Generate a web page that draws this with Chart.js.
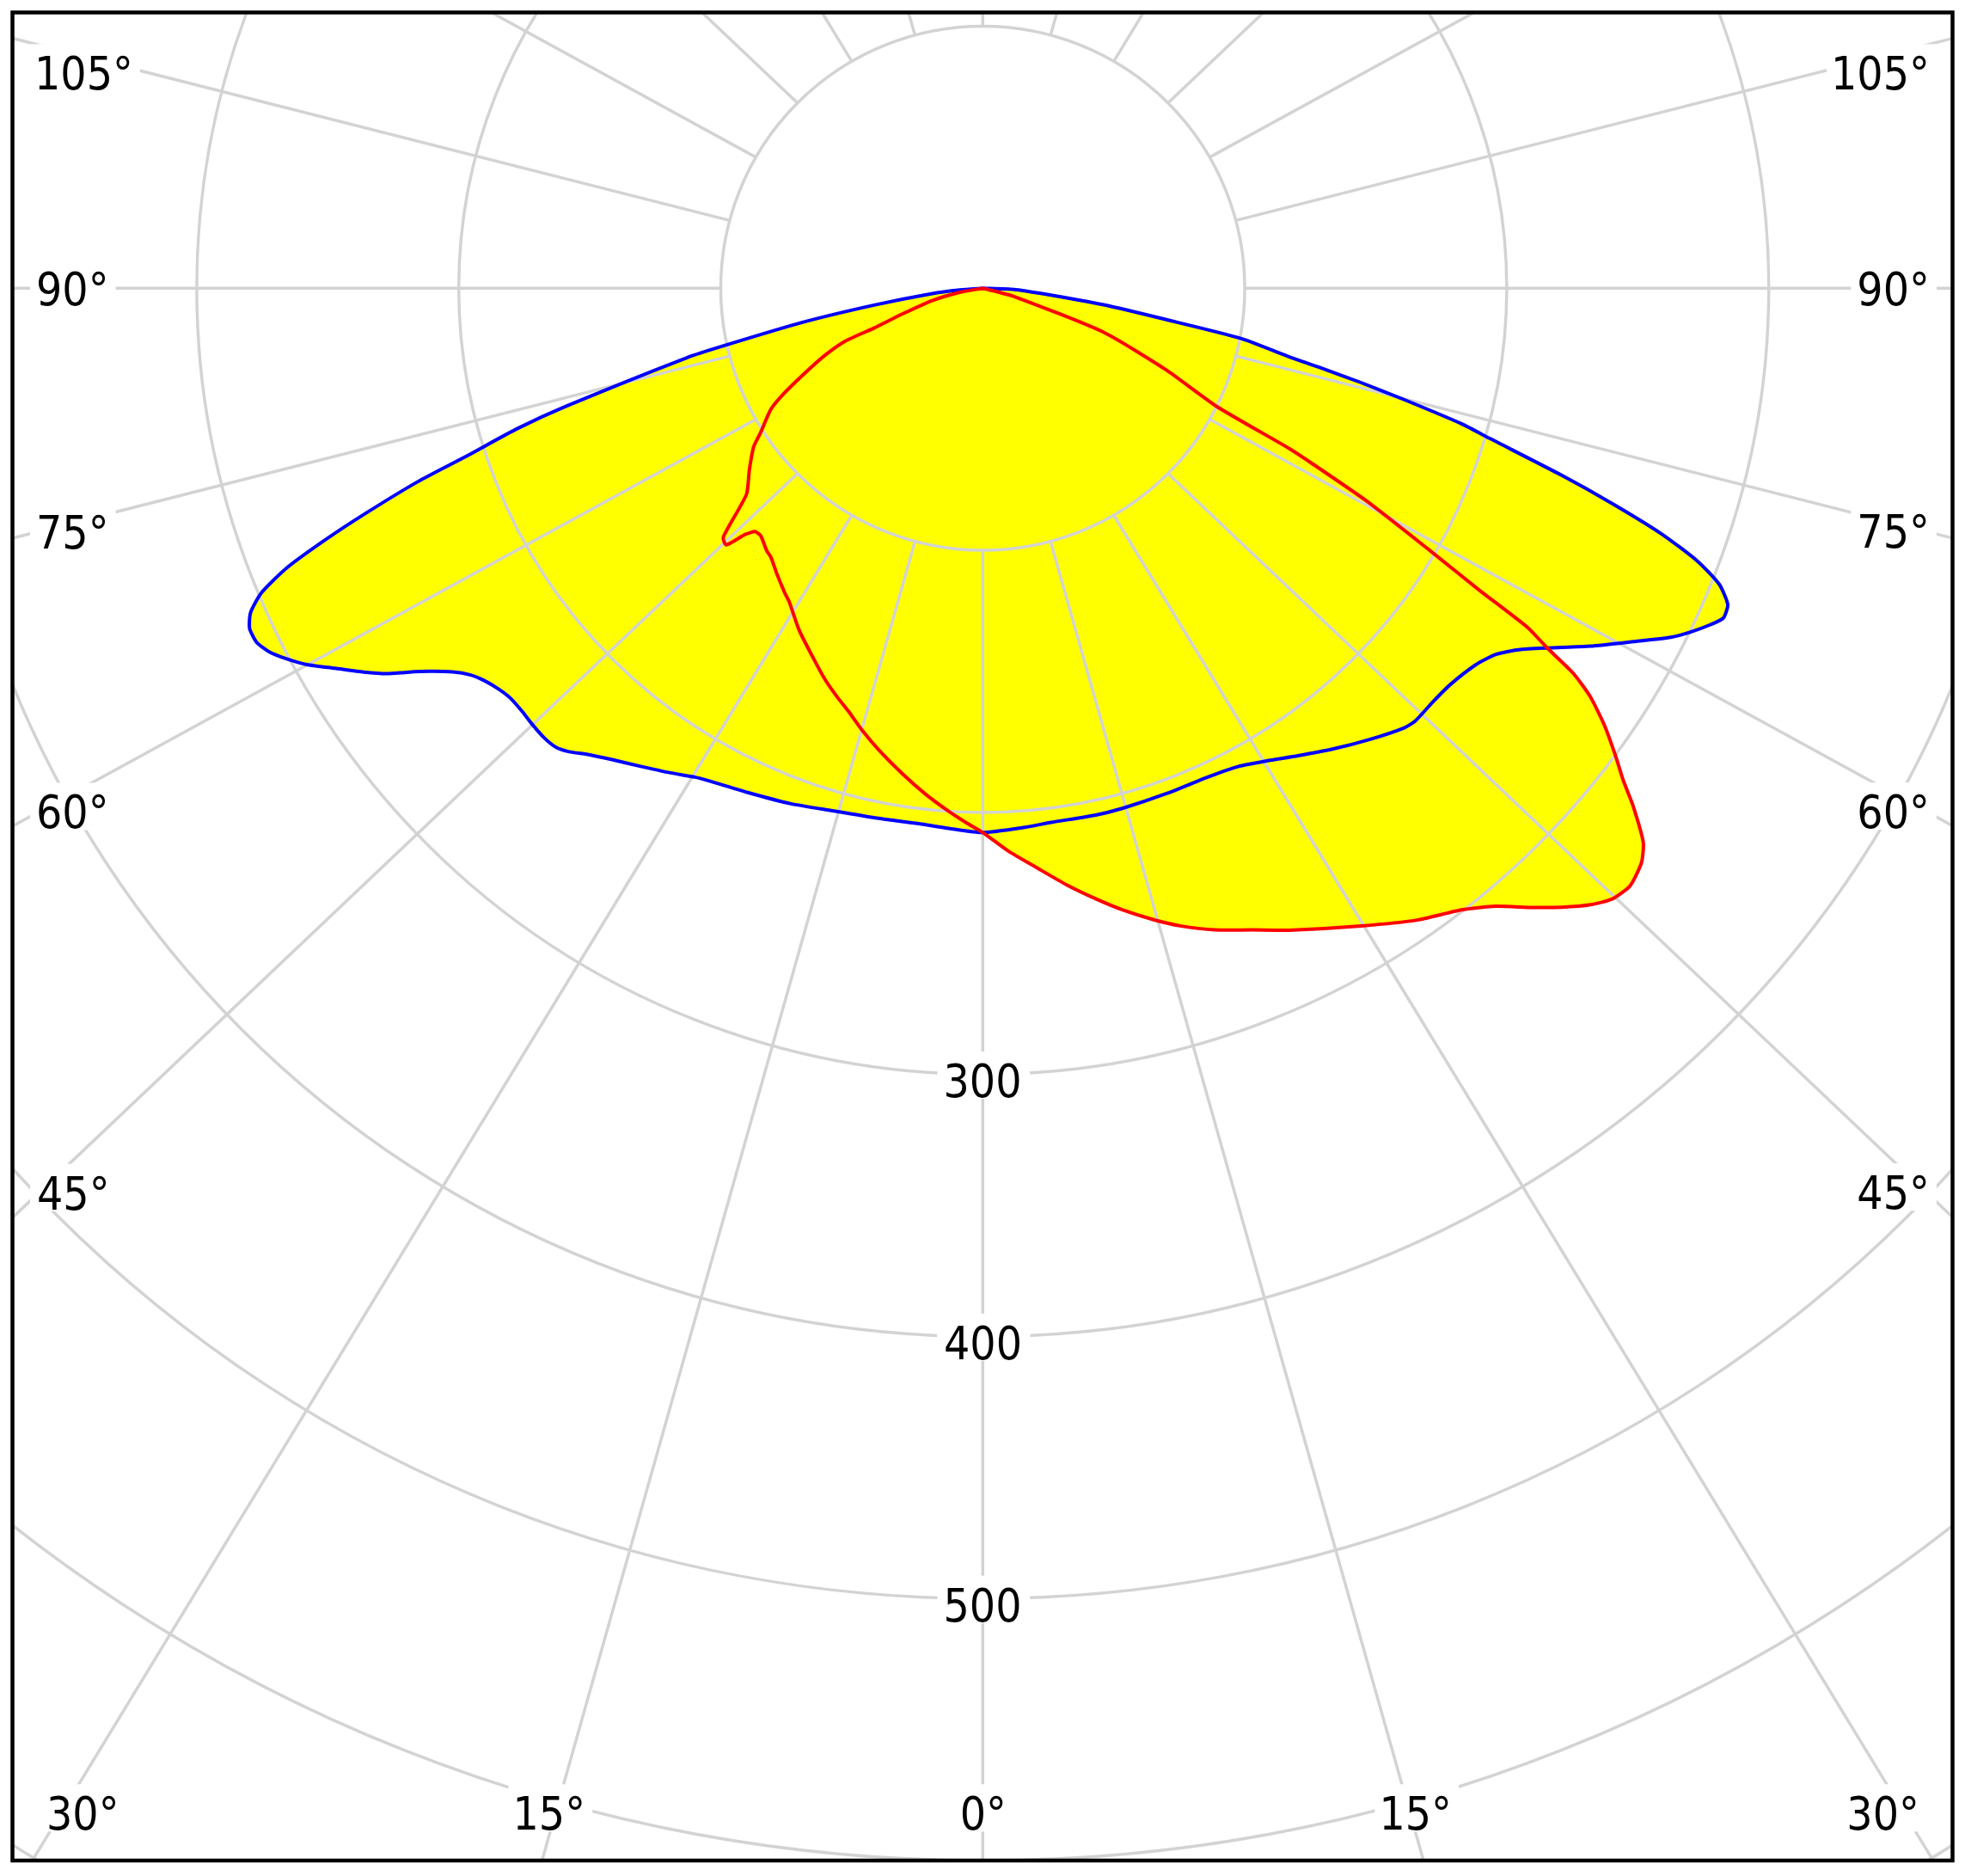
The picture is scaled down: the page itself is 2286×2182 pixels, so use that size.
<!DOCTYPE html>
<html>
<head>
<meta charset="utf-8">
<title>Polar intensity diagram</title>
<script src="https://cdn.jsdelivr.net/npm/chart.js@4.4.1/dist/chart.umd.min.js"></script>
<style>
  html, body { margin: 0; padding: 0; background: #ffffff; }
  canvas { display: block; }
</style>
</head>
<body>
<canvas id="polar" width="2286" height="2182" style="width:2286px;height:2182px"></canvas>
<script>
// gamma angle in degrees (0 = straight down, negative = left half), intensity
const c0Angles = [-90, -85.7, -83.9, -81.2, -79.3, -77.5, -76.8, -74.2, -73.2, -72.0, -71.1, -70.0, -69.1, -68.1, -67.1, -66.1,
  -65.1, -64.0, -63.0, -62.0, -60.9, -59.6, -58.2, -57.1, -56.3, -55.3, -54.1, -53.0, -51.8, -50.4, -49.1, -47.5, -45.9,
  -44.3, -42.9, -41.9, -40.1, -38.1, -35.5, -32.8, -30.5, -29.1, -25.0, -20.4, -15.9, -11.3, -6.7, -3.6, 0, 4.3, 7.3,
  12.0, 15.1, 20.0, 24.9, 28.1, 31.0, 34.0, 37.2, 40.6, 43.8, 45.0, 47.4, 49.7, 52.6, 54.5, 56.0, 57.5, 59.5, 61.5, 63.1,
  64.1, 65.2, 66.0, 67.0, 68.1, 69.1, 70.1, 71.1, 72.1, 73.5, 74.2, 75.2, 76.0, 76.8, 77.4, 79.0, 80.3, 82.2, 84.9, 87.8, 90];
const c0Values = [0, 8.8, 19.8, 42, 70, 101, 116, 165, 186, 207, 228, 250, 268, 286.5, 299, 305.7,
  308.5, 308.3, 305.6, 301.1, 295.3, 286.6, 278, 270.8, 264.1, 256.8, 249.7, 245.1, 242.1, 239.9, 238.7, 238.7, 239.3,
  239.7, 239.2, 237.4, 232.8, 228.7, 224.2, 220, 216.5, 215.1, 212.3, 209.9, 207.4, 206.2, 205.8, 206.5, 207.7, 206.4, 205.5,
  205.6, 205.5, 205.2, 205.4, 206.9, 210.4, 215.2, 220.8, 226.8, 232.4, 233.5, 233.3, 233.9, 236.7, 240.6, 246.7, 255.5, 269.1, 282.6, 294.4,
  300.3, 306, 309.4, 308.9, 303, 292.1, 275.7, 254.4, 232.2, 201.9, 189.9, 166.3, 148.8, 131.4, 119.9, 100.6, 71.1, 46.6, 22.3, 12, 0];

const c90Angles = [-90, -80, -76.2, -72.3, -69.9, -69.0, -67.0, -64.2, -61.9, -60.2, -57.0, -55.3, -52.1, -48.9, -46.2, -45.0,
  -44.0, -43.1, -41.9, -39.5, -38.2, -35.9, -33.0, -31.7, -28.2, -24.5, -22.0, -19.7, -17.7, -15.2, -12.6, -9.4, -6.5, -3.8,
  -1.8, 0, 2.6, 5.4, 7.9, 10.4, 12.7, 15.2, 17.2, 19.9, 22.8, 25.5, 30.7, 34.6, 37.6, 39.7, 41.6, 43.1, 44.6, 45.9, 47.3,
  48.9, 50.0, 51.5, 52.5, 53.5, 54.9, 56.1, 56.9, 57.5, 58.1, 58.7, 59.6, 61.0, 62.0, 62.4, 63.2, 66.0, 70.0, 75.2, 90];
const c90Values = [0, 8.9, 20.3, 32.1, 44.2, 56.2, 65.4, 76.5, 86.8, 93.3, 101.1, 106.4, 112.9, 119.7, 137.2, 138.5,
  130.6, 127.2, 126.9, 129.7, 130.7, 134.2, 138.7, 140.6, 148.2, 155.5, 160.9, 165.4, 169.2, 175, 180.8, 187.8, 194.2, 199.9,
  204, 207.7, 215, 222.3, 229.6, 236.7, 243.2, 249.8, 254.7, 260.4, 265.6, 271.4, 283, 292.8, 299.4, 306.5, 316, 323.5, 330.4, 334.8, 336.2,
  333.6, 329.1, 317.1, 308, 300.6, 290, 279.3, 269, 255.4, 244.9, 222, 198, 167.6, 142, 132, 100, 76.7, 49.1, 12.5, 0];

const ringValues = [100, 200, 300, 400, 500, 600, 700];
const ringLabelValues = [300, 400, 500];
const spokeAngles = [-165, -150, -135, -120, -105, -90, -75, -60, -45, -30, -15, 0,
  15, 30, 45, 60, 75, 90, 105, 120, 135, 150, 165, 180];
const sideTickAngles = [45, 60, 75, 90, 105];
const bottomTickAngles = [0, 15, 30];

const RAD = Math.PI / 180;

function toXY(angles, values) {
  return angles.map(function(a, i) {
    return { x: values[i] * Math.sin(a * RAD), y: -values[i] * Math.cos(a * RAD) };
  });
}

// rings, spokes and the boxed labels, drawn over the yellow fill but under the curves
const polarGrid = {
  id: 'polarGrid',
  beforeDatasetsDraw(chart) {
    const ctx = chart.ctx;
    const area = chart.chartArea;
    const xs = chart.scales.x, ys = chart.scales.y;
    const cx = xs.getPixelForValue(0), cy = ys.getPixelForValue(0);
    const w = area.right - area.left, h = area.bottom - area.top;

    ctx.save();
    ctx.beginPath();
    ctx.rect(area.left, area.top, w, h);
    ctx.clip();

    ctx.strokeStyle = '#d3d3d3';
    ctx.lineWidth = 3.5;
    ringValues.forEach(function(v) {
      ctx.beginPath();
      ctx.arc(cx, cy, xs.getPixelForValue(v) - cx, 0, 2 * Math.PI);
      ctx.stroke();
    });

    const spokes = {};
    spokeAngles.forEach(function(a) {
      const s = Math.sin(a * RAD), c = Math.cos(a * RAD);
      const x0 = xs.getPixelForValue(ringValues[0] * s);
      const y0 = ys.getPixelForValue(-ringValues[0] * c);
      const x1 = cx + 1.5 * w * s;
      const y1 = cy + 1.5 * h * c;
      ctx.beginPath();
      ctx.moveTo(x0, y0);
      ctx.lineTo(x1, y1);
      ctx.stroke();
      spokes[a] = [x0, y0, x1, y1];
    });

    ctx.font = '53px "DejaVu Sans Condensed", "DejaVu Sans", sans-serif';
    ctx.textAlign = 'left';
    ctx.textBaseline = 'alphabetic';

    function inkWidth(text) {
      const m = ctx.measureText(text);
      return m.actualBoundingBoxLeft + m.actualBoundingBoxRight;
    }
    function drawLabel(text, inkLeft, baseline) {
      const m = ctx.measureText(text);
      const tw = m.actualBoundingBoxLeft + m.actualBoundingBoxRight;
      ctx.fillStyle = '#ffffff';
      ctx.fillRect(inkLeft - 10, baseline - 53, tw + 22, 55);
      ctx.fillStyle = '#000000';
      ctx.fillText(text, inkLeft + m.actualBoundingBoxLeft, baseline);
    }

    // intensity values along the 0° spoke
    ringLabelValues.forEach(function(v) {
      const t = String(v);
      drawLabel(t, cx - inkWidth(t) / 2, ys.getPixelForValue(-v) + 26.5);
    });

    // angle labels on the left and right edges
    sideTickAngles.forEach(function(a) {
      const t = a + '°';
      const tw = inkWidth(t);
      [-a, a].forEach(function(k) {
        const sp = spokes[k];
        const xEdge = k < 0 ? area.left + 30.5 : area.right - 30.5;
        const f = (xEdge - sp[0]) / (sp[2] - sp[0]);
        let y = sp[1] + f * (sp[3] - sp[1]);
        y = Math.max(y, area.top + 70.5);
        drawLabel(t, k < 0 ? xEdge : xEdge - tw, y + 19.3);
      });
    });

    // angle labels along the bottom edge
    bottomTickAngles.forEach(function(a) {
      const t = a + '°';
      const tw = inkWidth(t);
      const keys = a === 0 ? [0] : [-a, a];
      keys.forEach(function(k) {
        const sp = spokes[k];
        const yEdge = area.bottom - 31;
        const f = (yEdge - sp[1]) / (sp[3] - sp[1]);
        let left = sp[0] + f * (sp[2] - sp[0]) - tw / 2;
        left = Math.max(left, area.left + 42.5);
        left = Math.min(left, area.right - 42.5 - tw);
        drawLabel(t, left, area.bottom - 35.7);
      });
    });

    ctx.restore();
  },
  afterDraw(chart) {
    const ctx = chart.ctx;
    const area = chart.chartArea;
    ctx.save();
    ctx.strokeStyle = '#000000';
    ctx.lineWidth = 4.5;
    ctx.strokeRect(area.left, area.top, area.right - area.left, area.bottom - area.top);
    ctx.restore();
  }
};

new Chart(document.getElementById('polar'), {
  type: 'scatter',
  data: {
    datasets: [{
      label: 'C0 - C180',
      data: toXY(c0Angles, c0Values),
      showLine: true,
      borderColor: '#0000ff',
      borderWidth: 4,
      backgroundColor: '#ffff00',
      fill: 'shape',
      pointRadius: 0,
      tension: 0.2,
      order: 2
    }, {
      label: 'C90 - C270',
      data: toXY(c90Angles, c90Values),
      showLine: true,
      borderColor: '#ff0000',
      borderWidth: 4,
      backgroundColor: '#ffff00',
      fill: 'shape',
      pointRadius: 0,
      tension: 0.2,
      order: 1
    }]
  },
  options: {
    responsive: false,
    devicePixelRatio: 1,
    animation: false,
    events: [],
    layout: { padding: { left: 14.5, top: 14.5, right: 14.5, bottom: 18 } },
    scales: {
      x: { type: 'linear', min: -370.34, max: 370.14, display: false },
      y: { type: 'linear', min: -600, max: 105.25, display: false }
    },
    plugins: {
      legend: { display: false },
      tooltip: { enabled: false },
      filler: { drawTime: 'beforeDatasetsDraw' }
    }
  },
  plugins: [polarGrid]
});
</script>
</body>
</html>
